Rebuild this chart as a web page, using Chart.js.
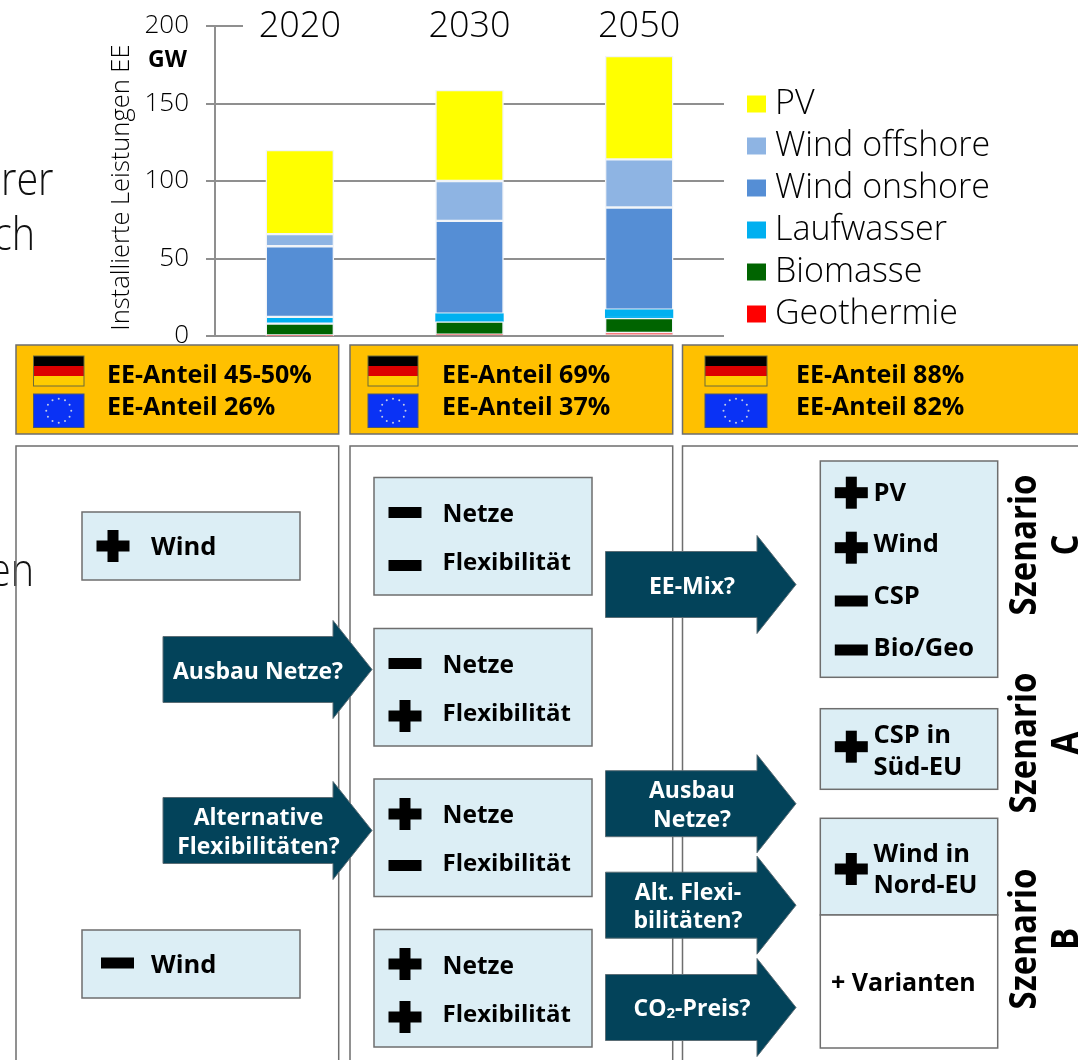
<!DOCTYPE html>
<html lang="de">
<head>
<meta charset="utf-8">
<title>Installierte Leistungen EE</title>
<script src="https://cdn.jsdelivr.net/npm/chart.js@4/dist/chart.umd.min.js"></script>
<style>
  html, body { margin: 0; padding: 0; background: #fff; overflow: hidden; }
  #stage { position: relative; width: 1078px; height: 1060px; overflow: hidden; }
  #capacity { position: absolute; left: 0; top: 0; z-index: 1; }
  #scheme { position: absolute; left: 0; top: 0; z-index: 2; }
  #scheme text { font-family: "Open Sans", sans-serif; font-weight: 700; dominant-baseline: central; }
</style>
</head>
<body>
<div id="stage">
  <canvas id="capacity" width="1078" height="350"></canvas>
  <svg id="scheme" width="1078" height="1060" viewBox="0 0 1078 1060" xmlns="http://www.w3.org/2000/svg"></svg>
</div>
<script>
// Installed renewable capacity in GW, per milestone year
const years = ["2020", "2030", "2050"];
const geothermie = [0.3, 0.9, 2];
const biomasse = [7.7, 8.4, 9.6];
const laufwasser = [4.3, 5.1, 5.4];
const windOnshore = [45.6, 59.9, 65.9];
const windOffshore = [7.8, 25.7, 31.1];
const pv = [54.2, 58.7, 66.6];
const yTicks = [0, 50, 100, 150, 200];

const GRID = "#8f8f8f";
const LIGHT = "300";
const FAMILY = "'Open Sans', sans-serif";

// Short stub of the top gridline at 200 GW
const topStub = {
  id: "topStub",
  beforeDatasetsDraw(chart) {
    const y = chart.scales.y.getPixelForValue(200);
    const c = chart.ctx;
    c.save();
    c.strokeStyle = GRID;
    c.lineWidth = 2;
    c.beginPath();
    c.moveTo(chart.chartArea.left, y);
    c.lineTo(243, y);
    c.stroke();
    c.restore();
  }
};

// Places the legend block beside the plot, clear of the gridline ends
const legendOffset = {
  id: "legendOffset",
  afterLayout(chart) {
    const l = chart.legend;
    l.left = 747;
    l.right = 1078;
    l.top = 79;
    l.bottom = 350;
  }
};

const barStyle = { borderColor: "#f1f4f8", borderWidth: 1.5, barThickness: 68, borderSkipped: false };

new Chart(document.getElementById("capacity"), {
  type: "bar",
  plugins: [topStub, legendOffset],
  data: {
    labels: years,
    datasets: [
      { label: "Geothermie", data: geothermie, backgroundColor: "#ff0000", ...barStyle, borderWidth: 1 },
      { label: "Biomasse", data: biomasse, backgroundColor: "#006400", ...barStyle },
      { label: "Laufwasser", data: laufwasser, backgroundColor: "#00b0f0", ...barStyle,
        borderColor: ["#f1f4f8", "#00b0f0", "#00b0f0"] },
      { label: "Wind onshore", data: windOnshore, backgroundColor: "#558ed5", ...barStyle },
      { label: "Wind offshore", data: windOffshore, backgroundColor: "#8eb4e3", ...barStyle },
      { label: "PV", data: pv, backgroundColor: "#ffff00", ...barStyle }
    ]
  },
  options: {
    responsive: false,
    animation: false,
    devicePixelRatio: 1,
    layout: { padding: { left: 106, right: 148, top: 0, bottom: 14 } },
    plugins: {
      tooltip: { enabled: false },
      title: { display: false },
      legend: {
        position: "right",
        align: "start",
        fullSize: false,
        labels: {
          boxWidth: 3,
          boxHeight: 1,
          padding: 8,
          color: "#000",
          font: { family: FAMILY, size: 34, weight: LIGHT },
          generateLabels(chart) {
            return chart.data.datasets.map((d, i) => ({
              text: d.label,
              fillStyle: d.backgroundColor,
              strokeStyle: d.backgroundColor,
              lineWidth: 16,
              datasetIndex: i
            })).reverse();
          }
        }
      }
    },
    scales: {
      x: {
        position: "top",
        stacked: true,
        grid: { display: false },
        border: { display: false },
        afterFit(scale) {
          scale.height = 26;
          scale.paddingLeft = scale.paddingRight = 0;
        },
        ticks: {
          mirror: true,
          padding: -20.5,
          color: "#000",
          maxRotation: 0,
          font: { family: FAMILY, size: 36, weight: LIGHT }
        }
      },
      y: {
        stacked: true,
        min: 0,
        max: 200,
        afterFit(scale) {
          scale.width = 109;
          scale.paddingTop = scale.paddingBottom = 0;
        },
        afterBuildTicks(scale) { scale.ticks = yTicks.map(v => ({ value: v })); },
        border: { display: true, color: GRID, width: 2 },
        grid: {
          color: ctx => (ctx.tick && ctx.tick.value === 200 ? "rgba(0,0,0,0)" : GRID),
          tickColor: GRID,
          lineWidth: 2,
          tickLength: 9,
          z: 0
        },
        ticks: {
          padding: 17,
          color: "#000",
          font: { family: FAMILY, size: 26, weight: LIGHT }
        },
        title: {
          display: true,
          text: "Installierte Leistungen EE\u00a0\u00a0",
          color: "#000",
          padding: { top: 0, bottom: 0 },
          font: { family: FAMILY, size: 25.5, weight: LIGHT }
        }
      }
    }
  }
});

// ---- Scenario scheme below the chart ----
const NS = "http://www.w3.org/2000/svg";
const svg = document.getElementById("scheme");
const EDGE = "#6e6e6e";
const PALE = "#dceef5";
const TEAL = "#03435a";

function el(name, attrs, text) {
  const n = document.createElementNS(NS, name);
  for (const k in attrs) n.setAttribute(k, attrs[k]);
  if (text !== undefined) n.textContent = text;
  svg.appendChild(n);
  return n;
}
const box = (x0, y0, x1, y1, fill, stroke = EDGE, w = 1.5) =>
  el("rect", { x: x0, y: y0, width: x1 - x0, height: y1 - y0, fill, stroke, "stroke-width": w });
const label = (x, y, s, size = 24, fill = "#000", anchor = "start") =>
  el("text", { x, y, "font-size": size, fill, "text-anchor": anchor }, s);

function plus(cx, cy) {
  box(cx - 16.5, cy - 5.5, cx + 16.5, cy + 5.5, "#000", "none", 0);
  box(cx - 5.5, cy - 16, cx + 5.5, cy + 16, "#000", "none", 0);
}
function minus(cx, cy) {
  box(cx - 16.5, cy - 5.5, cx + 16.5, cy + 5.5, "#000", "none", 0);
}
const mark = (sign, cx, cy) => (sign === "+" ? plus(cx, cy) : minus(cx, cy));

// Body text of the slide that runs behind the chart
const behind = [["rer", 1, 195], ["ch", -7, 250], ["en", -11, 586]];
behind.forEach(([s, x, y]) => {
  const t = label(0, 0, s, 46, "#111");
  t.setAttribute("style", "font-weight:300;dominant-baseline:alphabetic");
  t.setAttribute("transform", `translate(${x} ${y}) scale(0.86 1)`);
});

// Unit above the axis
label(148, 58, "GW", 23);

// Share of renewables per milestone, with German and European flags
const shareGermany = ["EE-Anteil 45-50%", "EE-Anteil 69%", "EE-Anteil 88%"];
const shareEurope = ["EE-Anteil 26%", "EE-Anteil 37%", "EE-Anteil 82%"];
const bands = [
  { x0: 16, x1: 338.7, fx0: 33.5, fx1: 84, tx: 107 },
  { x0: 350, x1: 672.7, fx0: 368, fx1: 418, tx: 442 },
  { x0: 682.5, x1: 1090, fx0: 705, fx1: 767, tx: 796 }
];
bands.forEach((b, i) => {
  box(b.x0, 345, b.x1, 434, "#ffc000");
  box(b.x0, 446, b.x1, 1075, "none");
  box(b.fx0, 356, b.fx1, 366, "#000", "none", 0);
  box(b.fx0, 366, b.fx1, 376, "#dd0000", "none", 0);
  box(b.fx0, 376, b.fx1, 386, "#ffcc00", "none", 0);
  box(b.fx0, 356, b.fx1, 386, "none", "#6b6b3a", 1);
  box(b.fx0, 394, b.fx1, 427.5, "#0a32f5", "#46557a", 1);
  const cx = (b.fx0 + b.fx1) / 2, cy = 410.7;
  for (let k = 0; k < 12; k++) {
    const a = k * Math.PI / 6;
    el("circle", { cx: cx + 12.5 * Math.cos(a), cy: cy + 12 * Math.sin(a), r: 1, fill: "#c3cde6" });
  }
  label(b.tx, 373, shareGermany[i], 25);
  label(b.tx, 404.5, shareEurope[i], 25);
});

// Wind cases in the first column
const windCases = [["+", 512, 580, 113, 546, 545], ["-", 930, 998, 117.5, 963, 963]];
windCases.forEach(([s, y0, y1, mx, my, ty]) => {
  box(82, y0, 300, y1, PALE);
  mark(s, mx, my);
  label(151, ty, "Wind", 25.5);
});

// Grid and flexibility combinations in the second column
const combos = [
  { y0: 477.5, a: "-", b: "-", ma: 512.5, mb: 565.5, ta: 512, tb: 560 },
  { y0: 628.5, a: "-", b: "+", ma: 663.5, mb: 716, ta: 663, tb: 711 },
  { y0: 779, a: "+", b: "-", ma: 814, mb: 865.5, ta: 813, tb: 861 },
  { y0: 929.5, a: "+", b: "+", ma: 964, mb: 1017, ta: 964, tb: 1012 }
];
combos.forEach(c => {
  box(374, c.y0, 592, c.y0 + 117.5, PALE);
  mark(c.a, 405, c.ma);
  mark(c.b, 405, c.mb);
  label(442.5, c.ta, "Netze", 24.5);
  label(442.5, c.tb, "Flexibilität", 24);
});

// Decision arrows
function arrow(x0, x1, headX, cy, lines, tx, size = 23) {
  const p = [[x0, cy - 33], [headX, cy - 33], [headX, cy - 49], [x1, cy], [headX, cy + 49], [headX, cy + 33], [x0, cy + 33]];
  el("polygon", { points: p.map(q => q.join(",")).join(" "), fill: TEAL, stroke: "#5b6d75", "stroke-width": 1 });
  const gap = 28.5;
  lines.forEach((s, i) => {
    label(tx, cy + (i - (lines.length - 1) / 2) * gap, s, size, "#fff", "middle");
  });
}
arrow(163, 372, 333, 669.5, ["Ausbau Netze?"], 258);
arrow(163, 372, 333, 830.5, ["Alternative", "Flexibilitäten?"], 258.5);
arrow(605.5, 796, 757, 584.5, ["EE-Mix?"], 692);
arrow(605.5, 796, 757, 803.7, ["Ausbau", "Netze?"], 692);
arrow(605.5, 796, 757, 905.2, ["Alt. Flexi-", "bilitäten?"], 688);
arrow(605.5, 796, 757, 1007.5, [], 692);
const co2 = label(692, 1007, "CO", 23, "#fff", "middle");
const sub = document.createElementNS(NS, "tspan");
sub.setAttribute("font-size", "15");
sub.setAttribute("dy", "5");
sub.textContent = "2";
co2.appendChild(sub);
const rest = document.createElementNS(NS, "tspan");
rest.setAttribute("dy", "-5");
rest.textContent = "-Preis?";
co2.appendChild(rest);

// Resulting scenarios on the right
box(820.3, 461, 997.7, 677.3, PALE);
const mixSigns = [["+", 492.7, "PV", 491], ["+", 547.7, "Wind", 542], ["-", 601, "CSP", 594], ["-", 650, "Bio/Geo", 646]];
mixSigns.forEach(([s, my, t, ty]) => {
  mark(s, 851.3, my);
  label(873.5, ty, t, 25.5);
});
box(820.3, 708.7, 997.7, 789.3, PALE);
plus(851.3, 746.7);
label(873.5, 733, "CSP in", 25.5);
label(873.5, 764.5, "Süd-EU", 25.5);
box(820.3, 818.3, 997.7, 915, PALE);
plus(851.3, 869);
label(873.5, 851.5, "Wind in", 25.5);
label(873.5, 882.5, "Nord-EU", 25);
box(820.3, 915, 997.7, 1048, "#fff");
label(831, 981, "+ Varianten", 25);

// Rotated scenario names, taller across the reading direction
const scenarios = [["Szenario", "C", 545], ["Szenario", "A", 743], ["Szenario", "B", 939]];
scenarios.forEach(([a, b, cy]) => {
  const t1 = label(0, 0, a, 33, "#000", "middle");
  t1.setAttribute("transform", `translate(1021 ${cy}) rotate(-90) scale(1 1.14)`);
  const t2 = label(0, 0, b, 33, "#000", "middle");
  t2.setAttribute("transform", `translate(1063 ${cy}) rotate(-90) scale(1 1.14)`);
});
</script>
</body>
</html>
